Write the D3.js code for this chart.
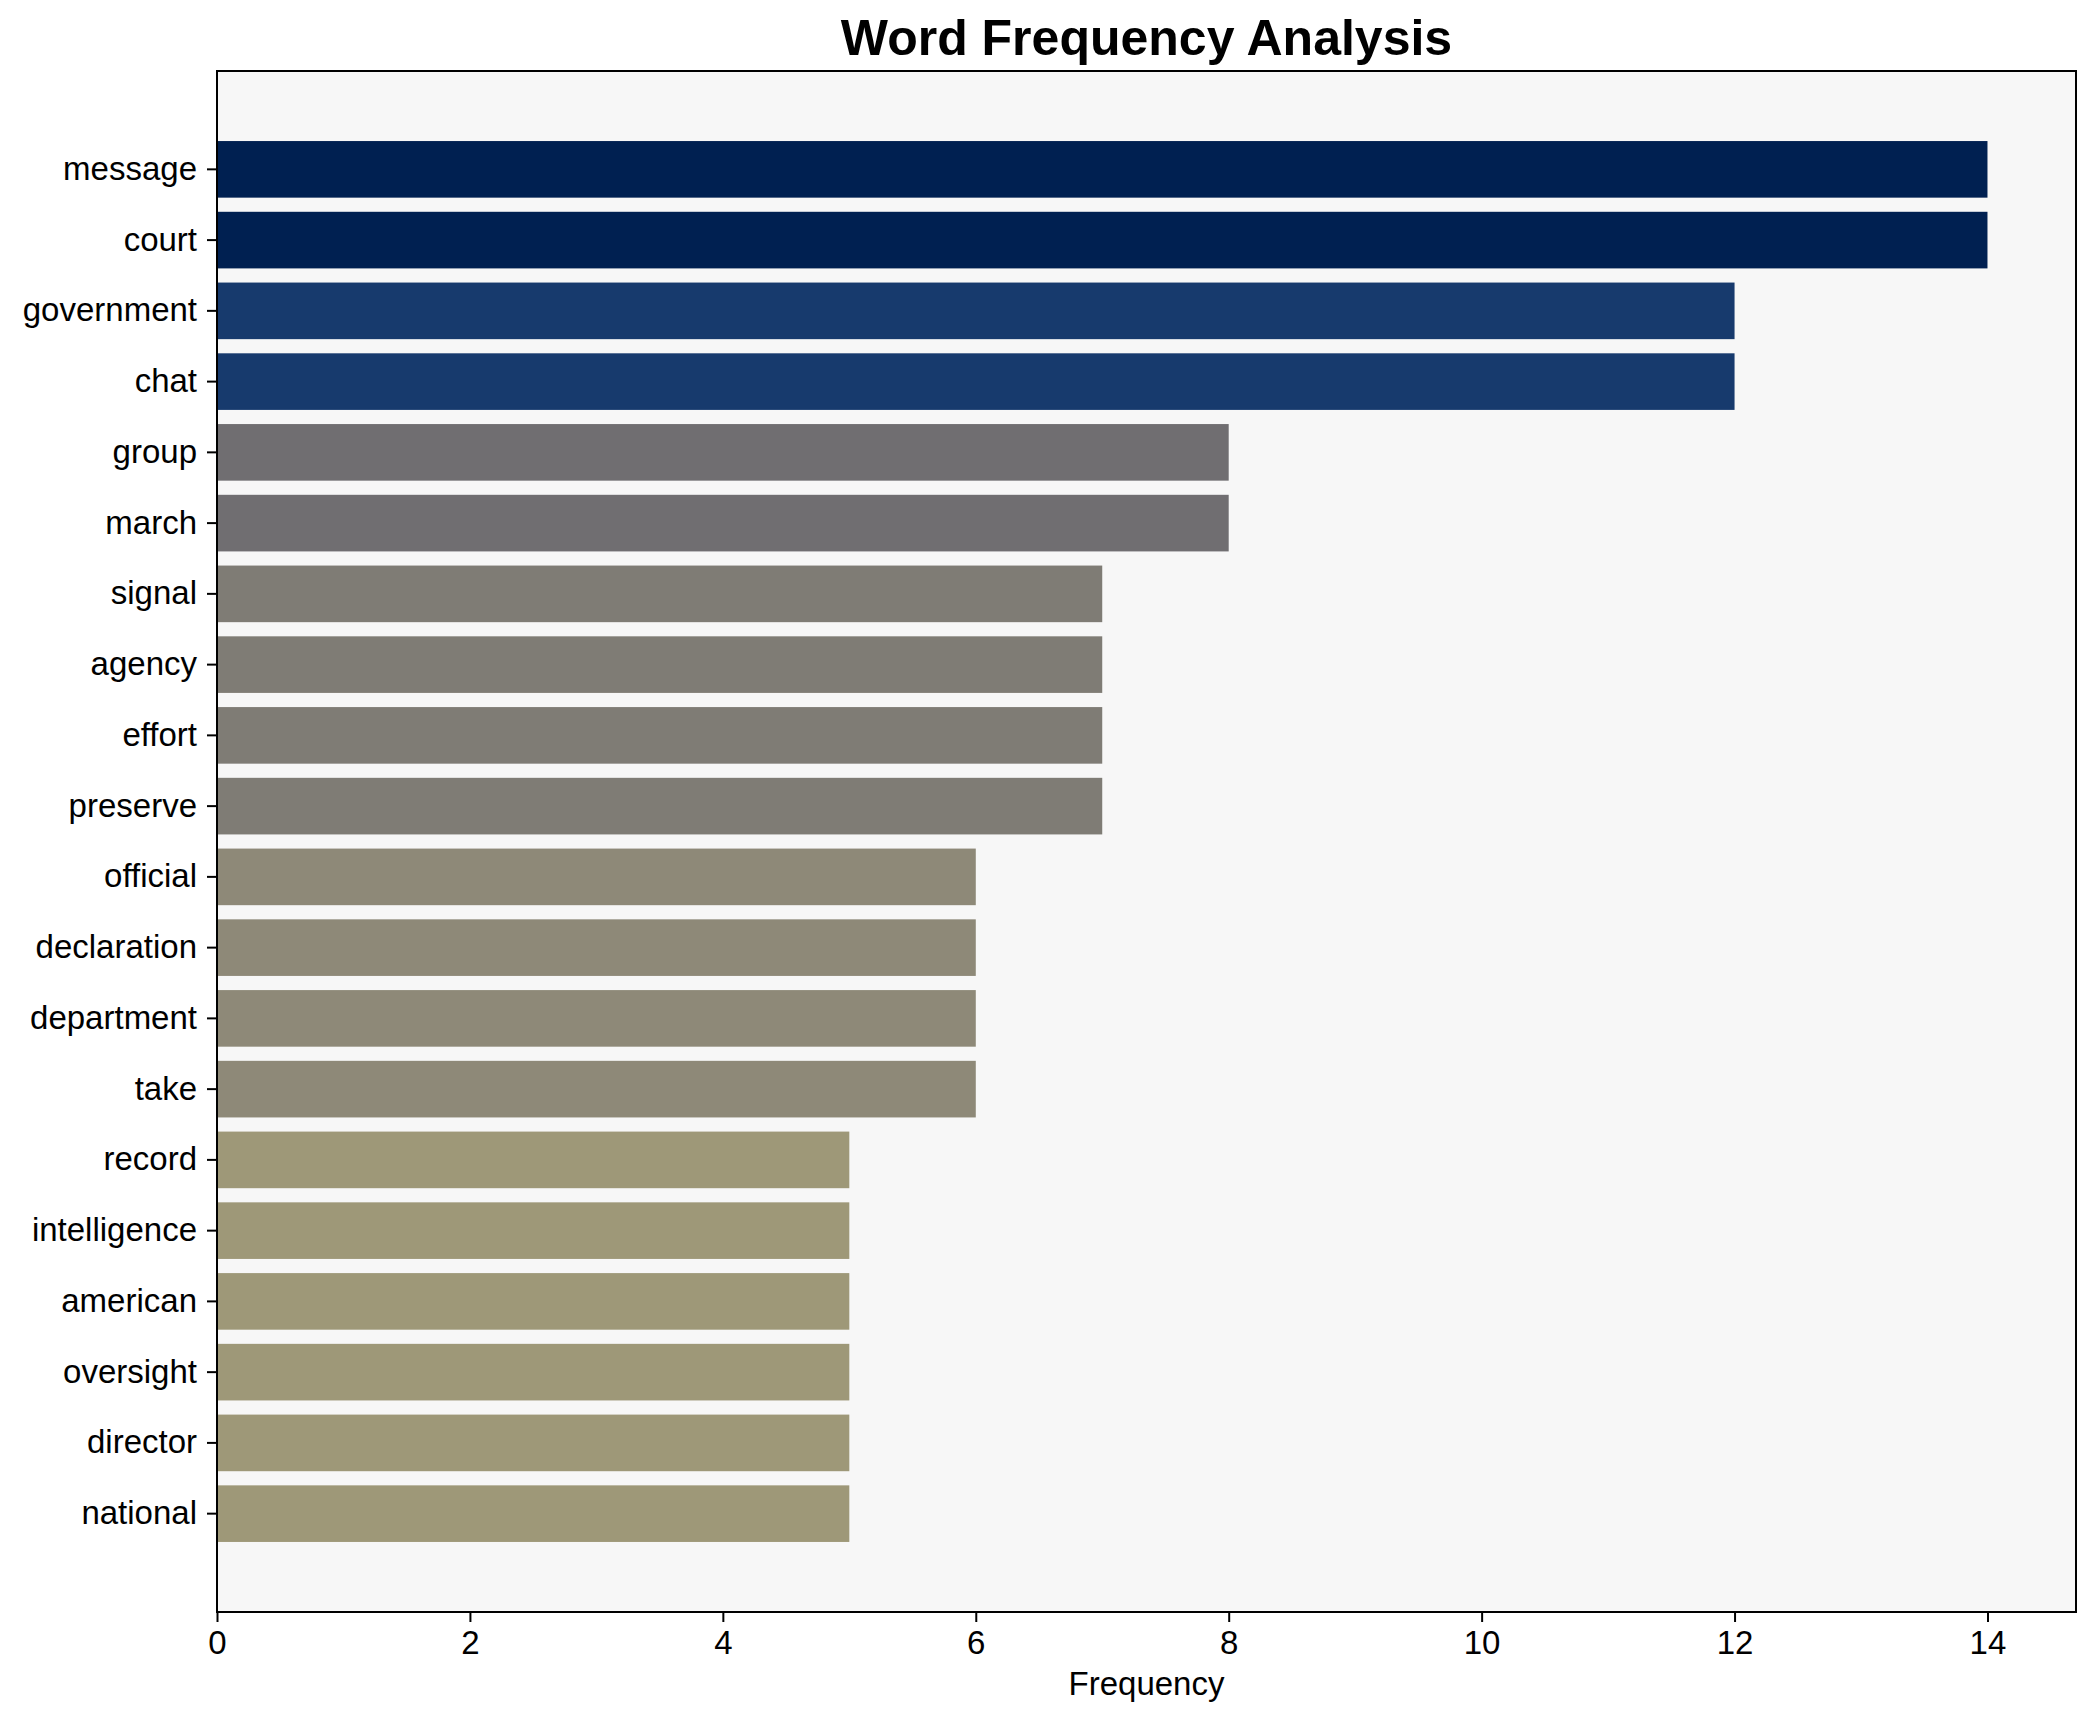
<!DOCTYPE html>
<html>
<head>
<meta charset="utf-8">
<script src="https://cdn.jsdelivr.net/npm/d3@7"></script>
<style>
  body { margin: 0; background: #fff; }
  svg { display: block; font-family: 'Liberation Sans', Arial, sans-serif; }
</style>
</head>
<body>
<div id="chart"></div>
<script>
const words = ['message', 'court', 'government', 'chat', 'group', 'march', 'signal', 'agency',
  'effort', 'preserve', 'official', 'declaration', 'department', 'take', 'record',
  'intelligence', 'american', 'oversight', 'director', 'national'];
const counts = [14, 14, 12, 12, 8, 8, 7, 7, 7, 7, 6, 6, 6, 6, 5, 5, 5, 5, 5, 5];
const xTicks = [0, 2, 4, 6, 8, 10, 12, 14];

const width = 2095;
const height = 1722;
const margin = { top: 71, right: 19, bottom: 110, left: 217 };
const innerW = width - margin.left - margin.right;
const innerH = height - margin.top - margin.bottom;

const svg = d3.select('#chart')
  .append('svg')
  .attr('width', width)
  .attr('height', height);

const g = svg.append('g')
  .attr('transform', `translate(${margin.left},${margin.top})`);

// plot background
g.append('rect')
  .attr('width', innerW)
  .attr('height', innerH)
  .attr('fill', '#f7f7f7');

const maxCount = d3.max(counts);

// matplotlib style: 5% margin on the right
const x = d3.scaleLinear()
  .domain([0, maxCount * 1.05])
  .range([0, innerW]);

const y = d3.scaleBand()
  .domain(words)
  .range([0, innerH])
  .paddingInner(0.2)
  .paddingOuter(0.99);

// reversed cividis on count / max
const color = v => d3.interpolateCividis(1 - v / maxCount);

const data = words.map((w, i) => ({ word: w, count: counts[i] }));

g.selectAll('.bar')
  .data(data)
  .join('rect')
  .attr('class', 'bar')
  .attr('x', 0)
  .attr('y', d => y(d.word))
  .attr('width', d => x(d.count))
  .attr('height', y.bandwidth())
  .attr('fill', d => color(d.count));

// Axes
const xAxis = g.append('g')
  .attr('transform', `translate(0,${innerH})`)
  .call(d3.axisBottom(x).tickValues(xTicks).tickFormat(d3.format('d')).tickSize(10).tickPadding(9));

const yAxis = g.append('g')
  .call(d3.axisLeft(y).tickSize(10).tickPadding(10));

[xAxis, yAxis].forEach(ax => {
  ax.select('.domain').remove();
  ax.selectAll('line').attr('stroke', '#000').attr('stroke-width', 2);
  ax.selectAll('text')
    .attr('fill', '#000')
    .style('font-size', '33px')
    .style('font-family', "'Liberation Sans', Arial, sans-serif");
});

// frame
g.append('rect')
  .attr('width', innerW)
  .attr('height', innerH)
  .attr('fill', 'none')
  .attr('stroke', '#000')
  .attr('stroke-width', 2);

// Title
svg.append('text')
  .attr('x', margin.left + innerW / 2)
  .attr('y', 55)
  .attr('text-anchor', 'middle')
  .style('font-size', '50px')
  .style('font-weight', 'bold')
  .text('Word Frequency Analysis');

// X label
svg.append('text')
  .attr('x', margin.left + innerW / 2)
  .attr('y', 1695)
  .attr('text-anchor', 'middle')
  .style('font-size', '33px')
  .text('Frequency');
</script>
</body>
</html>
